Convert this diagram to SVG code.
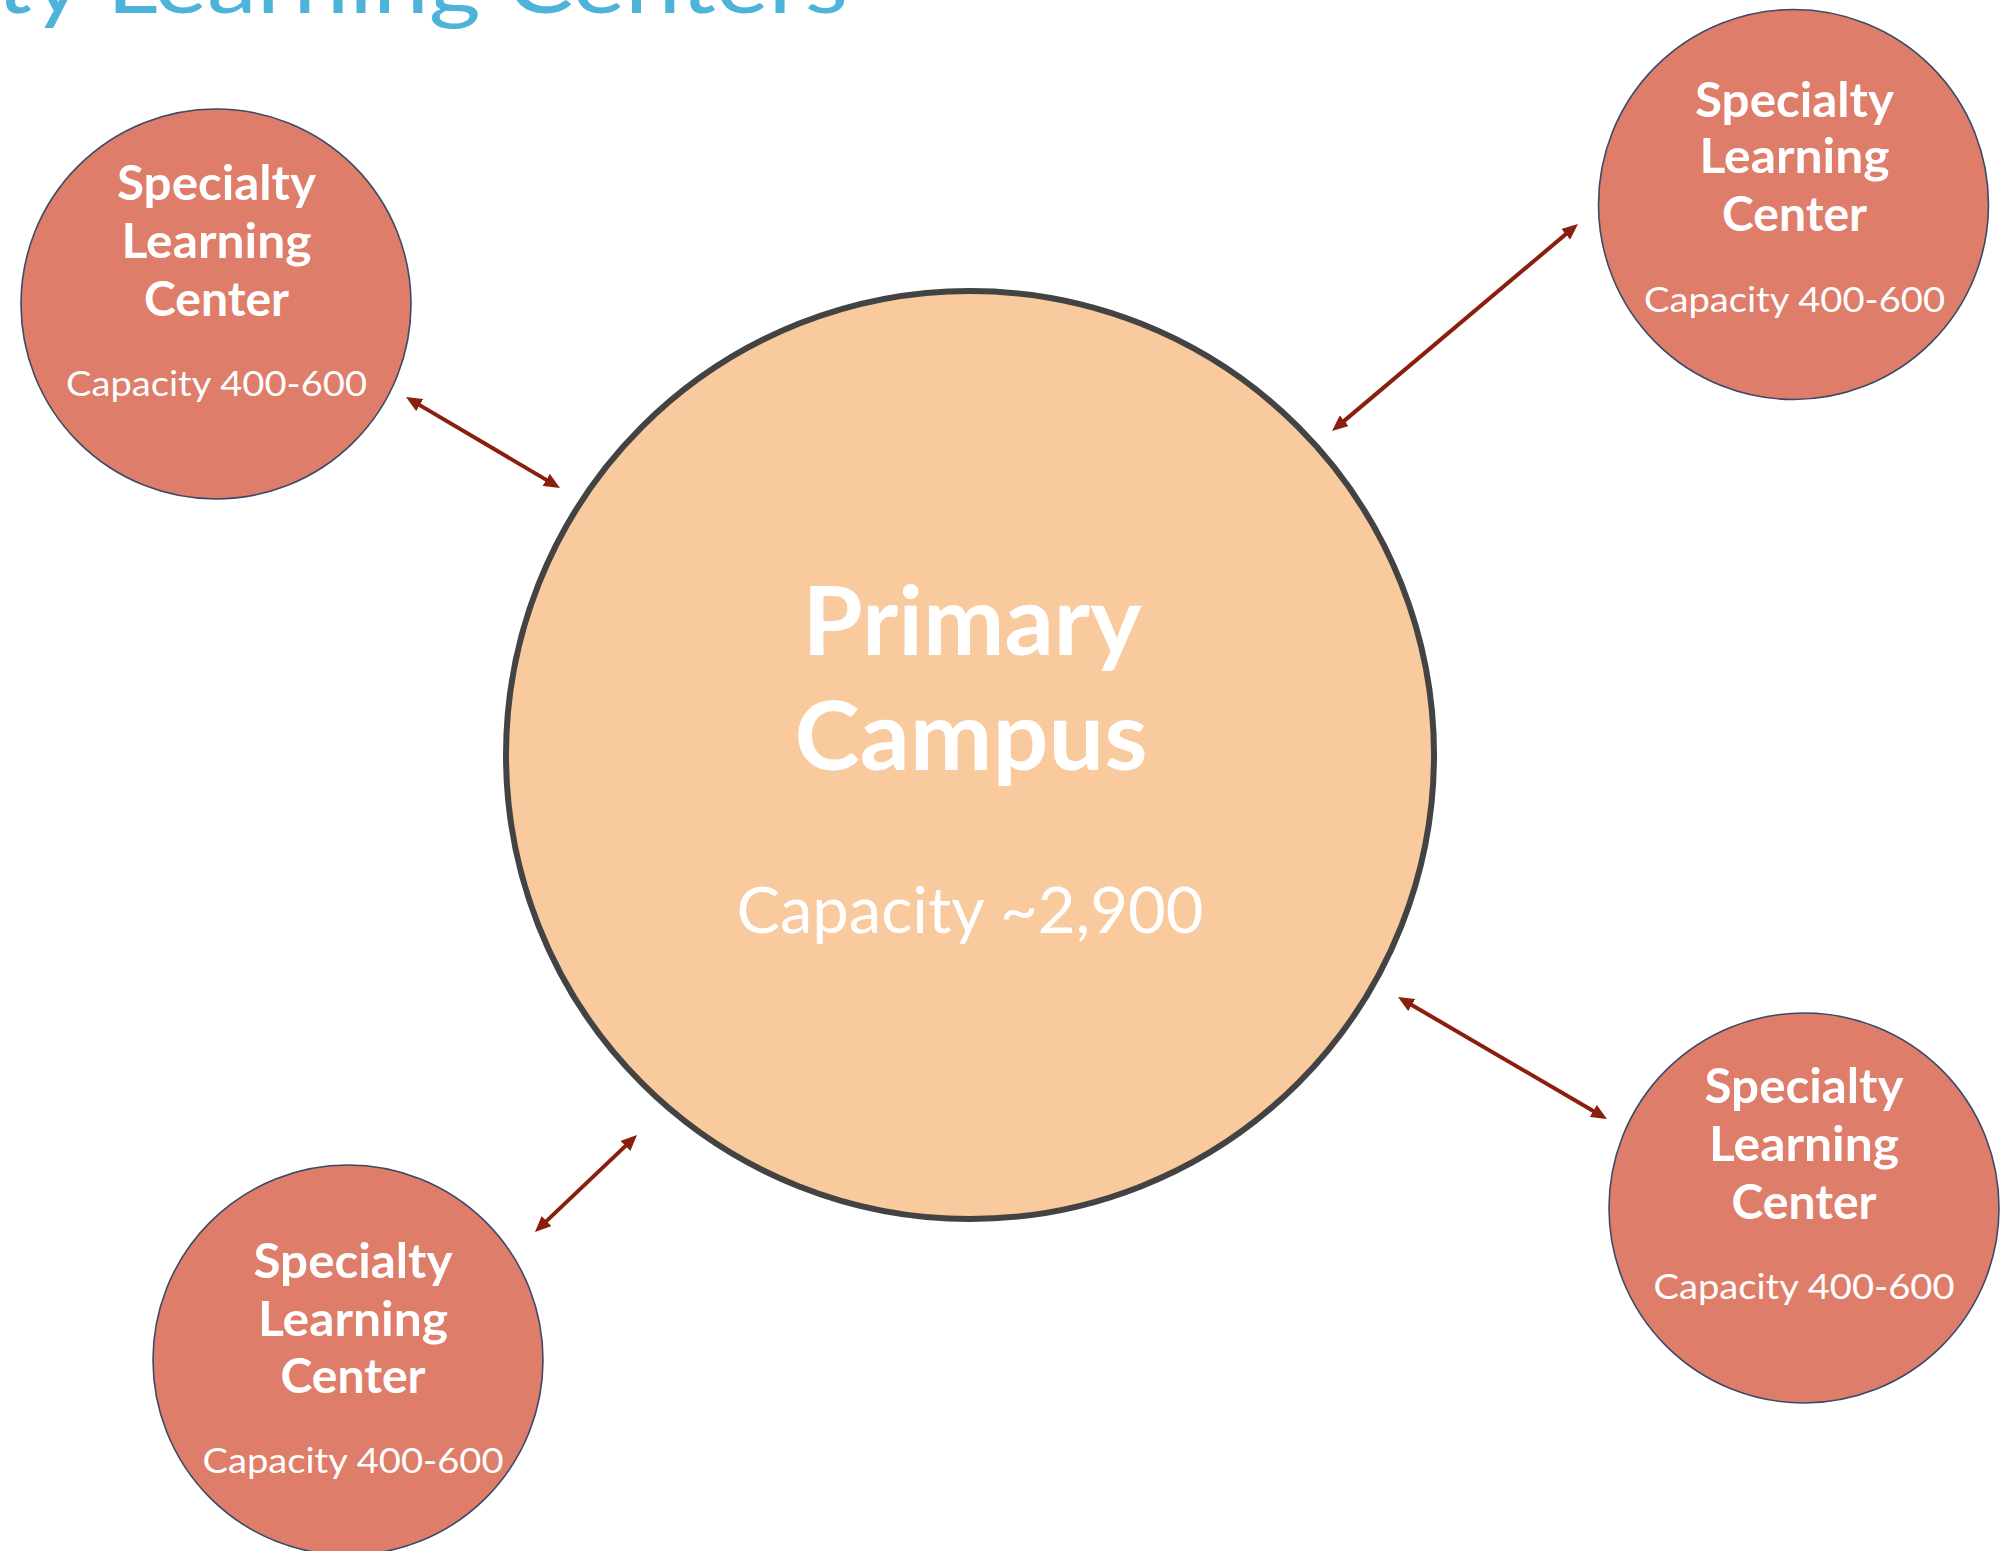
<svg xmlns="http://www.w3.org/2000/svg" width="2006" height="1551" viewBox="0 0 2006 1551">
<style>
.title{font-family:Lato,"Noto Sans",sans-serif;font-size:86px;fill:#4db3d9}
.big{fill:#f8ca9d;stroke:#434343;stroke-width:6}
.small{fill:#de7d6a;stroke:#3c4a66;stroke-width:1.6}
.h{font-family:Lato,"Noto Sans",sans-serif;font-weight:bold;fill:#fff;text-anchor:middle}
.r{font-family:Lato,"Noto Sans",sans-serif;fill:#fff;text-anchor:middle}
.sh{font-size:47px}
.sr{font-size:35px}
.conn line{stroke:#8b1f0e;stroke-width:4;marker-start:url(#ah);marker-end:url(#ah)}
</style>
<defs>
<marker id="ah" markerUnits="userSpaceOnUse" viewBox="0 0 16 14" markerWidth="16" markerHeight="14" refX="6" refY="7" orient="auto-start-reverse">
<path d="M0,0 L16,7 L0,14 z" fill="#8b1f0e"/>
</marker>
</defs>
<rect width="2006" height="1551" fill="#fff"/>
<text class="title" x="-4" y="13" textLength="852" lengthAdjust="spacingAndGlyphs">ty Learning Centers</text>
<g class="conn" id="connectors">
<line x1="414.6" y1="402.1" x2="551.4" y2="482.9"/>
<line x1="1339.7" y1="424.6" x2="1570.3" y2="230.4"/>
<line x1="1406.6" y1="1002" x2="1598.4" y2="1114"/>
<line x1="542.2" y1="1225.1" x2="629.8" y2="1141.9"/>
</g>
<g id="primary">
<circle class="big" cx="970" cy="755" r="464"/>
<text class="h" x="972" y="655" font-size="96" textLength="339" lengthAdjust="spacingAndGlyphs">Primary</text>
<text class="h" x="971" y="770" font-size="96" textLength="353" lengthAdjust="spacingAndGlyphs">Campus</text>
<text class="r" x="970" y="933" font-size="63" textLength="467" lengthAdjust="spacingAndGlyphs">Capacity ~2,900</text>
</g>
<g id="slc-tl">
<circle class="small" cx="216" cy="304" r="195"/>
<text class="h sh" x="216.5" y="200" textLength="199" lengthAdjust="spacingAndGlyphs">Specialty</text>
<text class="h sh" x="216.5" y="258" textLength="190" lengthAdjust="spacingAndGlyphs">Learning</text>
<text class="h sh" x="216.5" y="316" textLength="145" lengthAdjust="spacingAndGlyphs">Center</text>
<text class="r sr" x="216.5" y="396" textLength="301" lengthAdjust="spacingAndGlyphs">Capacity 400-600</text>
</g>
<g id="slc-tr">
<circle class="small" cx="1793.5" cy="204.5" r="195"/>
<text class="h sh" x="1794.5" y="117" textLength="199" lengthAdjust="spacingAndGlyphs">Specialty</text>
<text class="h sh" x="1794.5" y="173" textLength="190" lengthAdjust="spacingAndGlyphs">Learning</text>
<text class="h sh" x="1794.5" y="231" textLength="145" lengthAdjust="spacingAndGlyphs">Center</text>
<text class="r sr" x="1794.5" y="312" textLength="301" lengthAdjust="spacingAndGlyphs">Capacity 400-600</text>
</g>
<g id="slc-br">
<circle class="small" cx="1804" cy="1208" r="195"/>
<text class="h sh" x="1804" y="1103" textLength="199" lengthAdjust="spacingAndGlyphs">Specialty</text>
<text class="h sh" x="1804" y="1161" textLength="190" lengthAdjust="spacingAndGlyphs">Learning</text>
<text class="h sh" x="1804" y="1219" textLength="145" lengthAdjust="spacingAndGlyphs">Center</text>
<text class="r sr" x="1804" y="1299" textLength="301" lengthAdjust="spacingAndGlyphs">Capacity 400-600</text>
</g>
<g id="slc-bl">
<circle class="small" cx="348" cy="1360" r="195"/>
<text class="h sh" x="353" y="1278" textLength="199" lengthAdjust="spacingAndGlyphs">Specialty</text>
<text class="h sh" x="353" y="1336" textLength="190" lengthAdjust="spacingAndGlyphs">Learning</text>
<text class="h sh" x="353" y="1393" textLength="145" lengthAdjust="spacingAndGlyphs">Center</text>
<text class="r sr" x="353" y="1473" textLength="301" lengthAdjust="spacingAndGlyphs">Capacity 400-600</text>
</g>
</svg>
